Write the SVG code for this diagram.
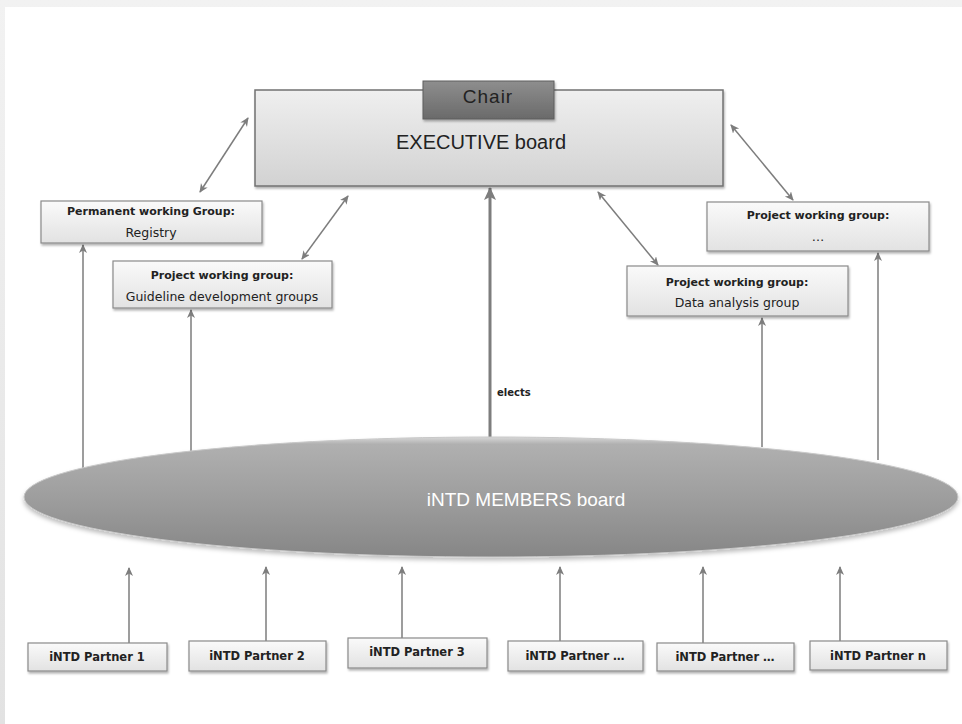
<svg xmlns="http://www.w3.org/2000/svg" width="962" height="724" viewBox="0 0 962 724">
<style>
.box{stroke:#8a8a8a;stroke-width:1.2;fill:url(#boxg);filter:url(#sh)}
.t1{font-family:"DejaVu Sans",sans-serif;font-weight:bold;font-size:11px;fill:#222;text-anchor:middle}
.t2{font-family:"DejaVu Sans",sans-serif;font-size:12.5px;fill:#222;text-anchor:middle}
.tp{font-family:"DejaVu Sans",sans-serif;font-weight:bold;font-size:11.5px;fill:#222;text-anchor:middle}
.ln{stroke:#7d7d7d;stroke-width:1.5;fill:none}
.big{font-family:"Liberation Sans",sans-serif;text-anchor:middle}
</style>
<defs>
<linearGradient id="frame" x1="0" y1="0" x2="0" y2="1"><stop offset="0" stop-color="#f2f2f2"/><stop offset="1" stop-color="#e2e2e2"/></linearGradient>
<linearGradient id="boxg" x1="0" y1="0" x2="0" y2="1"><stop offset="0" stop-color="#fafafa"/><stop offset="1" stop-color="#e2e2e2"/></linearGradient>
<linearGradient id="execg" x1="0" y1="0" x2="0" y2="1"><stop offset="0" stop-color="#efefef"/><stop offset="1" stop-color="#d2d2d2"/></linearGradient>
<linearGradient id="chairg" x1="0" y1="0" x2="0" y2="1"><stop offset="0" stop-color="#8e8e8e"/><stop offset="1" stop-color="#6a6a6a"/></linearGradient>
<linearGradient id="ellg" x1="0" y1="0" x2="0" y2="1"><stop offset="0" stop-color="#d8d8d8"/><stop offset="0.06" stop-color="#b0b0b0"/><stop offset="0.5" stop-color="#9e9e9e"/><stop offset="1" stop-color="#868686"/></linearGradient>
<filter id="sh" x="-10%" y="-20%" width="130%" height="160%"><feDropShadow dx="1" dy="2" stdDeviation="1.2" flood-color="#000" flood-opacity="0.3"/></filter>
<filter id="sh2" x="-5%" y="-10%" width="110%" height="130%"><feDropShadow dx="0" dy="3" stdDeviation="2" flood-color="#000" flood-opacity="0.25"/></filter>
<marker id="ah" markerWidth="10" markerHeight="10" refX="8" refY="4" orient="auto-start-reverse" markerUnits="userSpaceOnUse"><path d="M0,0 L9,4 L0,8 L2.5,4 z" fill="#7d7d7d"/></marker>
<marker id="ahb" markerWidth="16" markerHeight="16" refX="12" refY="6" orient="auto" markerUnits="userSpaceOnUse"><path d="M0,0 L13,6 L0,12 L3,6 z" fill="#7d7d7d"/></marker>
</defs>
<rect x="0" y="0" width="962" height="724" fill="url(#frame)"/>
<rect x="5" y="7" width="957" height="717" fill="#fff"/>

<g id="connectors">
<line class="ln" x1="83" y1="468" x2="83" y2="245" marker-end="url(#ah)"/>
<line class="ln" x1="191" y1="452" x2="191" y2="310" marker-end="url(#ah)"/>
<line class="ln" x1="490" y1="437" x2="490" y2="188" style="stroke-width:3" marker-end="url(#ahb)"/>
<line class="ln" x1="762" y1="447" x2="762" y2="318" marker-end="url(#ah)"/>
<line class="ln" x1="878" y1="460" x2="878" y2="253" marker-end="url(#ah)"/>
<line class="ln" x1="200" y1="192" x2="248" y2="118" marker-start="url(#ah)" marker-end="url(#ah)"/>
<line class="ln" x1="302" y1="259" x2="348" y2="196" marker-start="url(#ah)" marker-end="url(#ah)"/>
<line class="ln" x1="731" y1="125" x2="793" y2="200" marker-start="url(#ah)" marker-end="url(#ah)"/>
<line class="ln" x1="598" y1="192" x2="658" y2="265" marker-start="url(#ah)" marker-end="url(#ah)"/>
<line class="ln" x1="129" y1="643" x2="129" y2="568" marker-end="url(#ah)"/>
<line class="ln" x1="266" y1="641" x2="266" y2="567" marker-end="url(#ah)"/>
<line class="ln" x1="402" y1="638" x2="402" y2="567" marker-end="url(#ah)"/>
<line class="ln" x1="560" y1="641" x2="560" y2="567" marker-end="url(#ah)"/>
<line class="ln" x1="703" y1="643" x2="703" y2="567" marker-end="url(#ah)"/>
<line class="ln" x1="840" y1="641" x2="840" y2="567" marker-end="url(#ah)"/>
<text x="497" y="396" style="font-family:'DejaVu Sans',sans-serif;font-weight:bold;font-size:10px;fill:#222">elects</text>
</g>

<g id="executive">
<rect x="255" y="90" width="468" height="96" fill="url(#execg)" stroke="#727272" stroke-width="1.5" filter="url(#sh)"/>
<text class="big" x="481" y="149" font-size="20" fill="#222">EXECUTIVE board</text>
</g>
<g id="chair">
<rect x="423" y="81" width="131" height="38" fill="url(#chairg)" stroke="#5e5e5e" stroke-width="1" filter="url(#sh)"/>
<text class="big" x="488" y="103" font-size="19" fill="#222" letter-spacing="1">Chair</text>
</g>

<g id="pwg-registry">
<rect class="box" x="41" y="201" width="221" height="42"/>
<text class="t1" x="151" y="215">Permanent working Group:</text>
<text class="t2" x="151" y="237">Registry</text>
</g>
<g id="pwg-guideline">
<rect class="box" x="113" y="261" width="219" height="47"/>
<text class="t1" x="222" y="279">Project working group:</text>
<text class="t2" x="222" y="301">Guideline development groups</text>
</g>
<g id="pwg-other">
<rect class="box" x="707" y="202" width="222" height="49"/>
<text class="t1" x="818" y="219">Project working group:</text>
<text class="t2" x="818" y="241">…</text>
</g>
<g id="pwg-data">
<rect class="box" x="627" y="266" width="221" height="50"/>
<text class="t1" x="737" y="286">Project working group:</text>
<text class="t2" x="737" y="307">Data analysis group</text>
</g>

<g id="members">
<ellipse cx="491" cy="497" rx="467" ry="60" fill="url(#ellg)" stroke="#c8c8c8" stroke-width="1" filter="url(#sh2)"/>
<text class="big" x="526" y="506" font-size="19" fill="#fff">iNTD MEMBERS board</text>
</g>

<g id="partner1"><rect class="box" x="28" y="643" width="139" height="28"/><text class="tp" x="97" y="661">iNTD Partner 1</text></g>
<g id="partner2"><rect class="box" x="189" y="641" width="137" height="30"/><text class="tp" x="257" y="660">iNTD Partner 2</text></g>
<g id="partner3"><rect class="box" x="348" y="638" width="139" height="30"/><text class="tp" x="417" y="656">iNTD Partner 3</text></g>
<g id="partner4"><rect class="box" x="508" y="641" width="135" height="30"/><text class="tp" x="575" y="660">iNTD Partner  …</text></g>
<g id="partner5"><rect class="box" x="657" y="643" width="137" height="28"/><text class="tp" x="725" y="661">iNTD Partner  …</text></g>
<g id="partner6"><rect class="box" x="810" y="641" width="137" height="29"/><text class="tp" x="878" y="660">iNTD Partner n</text></g>
</svg>
